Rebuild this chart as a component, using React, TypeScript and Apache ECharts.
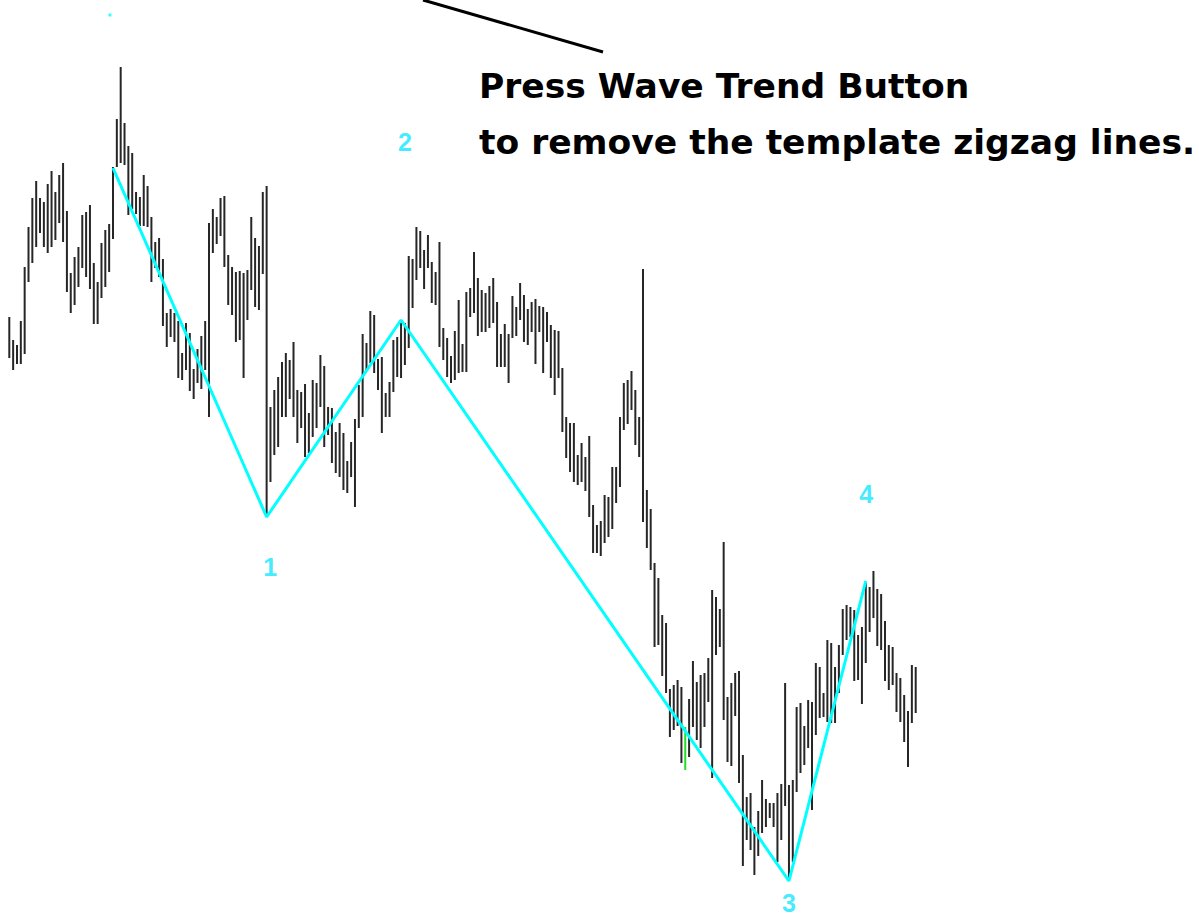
import React, { useEffect, useRef } from "react";
import * as echarts from "echarts";

// Bar highs and lows (chart units, no axis shown), one per session
const highs = [
  683, 660, 655, 679, 733, 773, 802, 819, 802, 798, 816, 829, 808, 825, 837, 789, 727, 743, 753, 785,
  788, 795, 737, 718, 757, 770, 776, 833, 881, 933, 877, 854, 847, 808, 803, 825, 814, 783, 758, 762,
  741, 687, 691, 687, 679, 647, 677, 667, 631, 651, 664, 679, 777, 791, 783, 802, 804, 745, 733, 728,
  729, 727, 730, 783, 762, 754, 808, 814, 593, 610, 623, 638, 647, 640, 658, 610, 608, 616, 587, 620,
  617, 645, 634, 593, 592, 568, 577, 567, 539, 558, 581, 615, 666, 657, 689, 685, 641, 643, 607, 618,
  660, 663, 678, 677, 744, 741, 773, 769, 750, 765, 738, 728, 758, 672, 662, 644, 669, 700, 656, 708,
  712, 748, 722, 710, 707, 714, 722, 698, 666, 676, 666, 704, 693, 717, 705, 691, 698, 701, 694, 693,
  688, 675, 670, 669, 632, 583, 577, 577, 545, 557, 543, 564, 495, 475, 479, 505, 503, 533, 533, 583,
  617, 620, 629, 610, 583, 731, 510, 491, 437, 422, 385, 377, 311, 315, 320, 313, 273, 301, 339, 318,
  325, 327, 342, 410, 403, 391, 458, 303, 317, 327, 329, 245, 203, 207, 173, 189, 220, 201, 197, 197,
  207, 216, 317, 215, 220, 293, 297, 274, 300, 298, 337, 333, 307, 360, 357, 333, 355, 391, 395, 393,
  390, 365, 373, 417, 413, 429, 411, 406, 379, 355, 353, 327, 322, 305, 289, 335, 333,
];
const lows = [
  642, 630, 636, 636, 646, 718, 737, 753, 767, 753, 747, 753, 760, 777, 758, 708, 687, 695, 713, 732,
  723, 711, 676, 676, 702, 713, 728, 761, 833, 837, 835, 785, 791, 786, 774, 774, 773, 718, 732, 723,
  674, 653, 663, 658, 622, 620, 630, 609, 601, 617, 611, 630, 583, 747, 756, 764, 733, 695, 685, 658,
  660, 622, 680, 710, 693, 690, 726, 483, 518, 545, 553, 583, 583, 601, 583, 557, 572, 543, 547, 563,
  572, 593, 553, 565, 537, 527, 523, 510, 507, 523, 493, 572, 583, 630, 637, 627, 610, 567, 583, 583,
  608, 623, 622, 635, 652, 692, 720, 732, 711, 732, 697, 695, 653, 640, 623, 617, 620, 627, 628, 628,
  683, 687, 664, 668, 668, 672, 677, 633, 633, 633, 617, 662, 664, 680, 658, 655, 668, 636, 668, 627,
  658, 622, 605, 622, 568, 542, 528, 518, 515, 518, 509, 483, 447, 447, 444, 457, 463, 471, 497, 513,
  570, 576, 590, 555, 543, 478, 452, 430, 353, 355, 324, 307, 263, 270, 274, 237, 230, 243, 273, 260,
  252, 273, 298, 222, 345, 353, 280, 238, 234, 284, 217, 134, 160, 150, 125, 144, 167, 173, 182, 173,
  138, 160, 194, 119, 138, 208, 227, 235, 252, 190, 265, 282, 283, 278, 277, 277, 307, 345, 360, 363,
  319, 320, 296, 337, 368, 382, 354, 350, 319, 310, 315, 288, 278, 258, 233, 277, 287,
];
// Highlighted (green) bar index
const greenBars = [176];

// Template zigzag pivots: [bar index, value]
const zigzagIdx = [27, 67, 102, 203, 223];
const zigzagVal = [832, 483, 680, 119, 419];

// Wave labels
const waveNames = ["1", "2", "3", "4"];
const waveLabelIdx = [67.9, 103.0, 203.0, 223.1];
const waveLabelVal = [433, 858, 97, 506];

const noteLines = ["Press Wave Trend Button", "to remove the template zigzag lines."];

export default function App() {
  const ref = useRef<HTMLDivElement>(null);
  useEffect(() => {
    document.body.style.margin = "0";
    const chart = echarts.init(ref.current!, undefined, { renderer: "svg" });
    const barData = highs.map((h, i) => {
      const item: any = { value: [i, h, lows[i]] };
      if (greenBars.includes(i)) item.itemStyle = { color: "#22dd22" };
      return item;
    });
    const zz = zigzagIdx.map((x, i) => [x, zigzagVal[i]]);
    const labels = waveNames.map((n, i) => ({ name: n, value: [waveLabelIdx[i], waveLabelVal[i]] }));
    chart.setOption({
      animation: false,
      backgroundColor: "#ffffff",
      grid: { left: 9.3, right: 283.3, top: 0, bottom: 0 },
      xAxis: { type: "value", min: 0, max: 236, show: false },
      yAxis: { type: "value", min: 83, max: 1000, show: false },
      series: [
        {
          type: "custom",
          itemStyle: { color: "#262626" },
          encode: { x: 0, y: [1, 2] },
          data: barData,
          renderItem: (params: any, api: any) => {
            const i = api.value(0);
            const top = api.coord([i, api.value(1)]);
            const bot = api.coord([i, api.value(2)]);
            return {
              type: "rect",
              shape: { x: top[0] - 1, y: top[1], width: 2, height: bot[1] - top[1] },
              style: { fill: api.visual("color") },
            };
          },
        },
        {
          type: "line",
          data: zz,
          symbol: "none",
          lineStyle: { color: "#00ffff", width: 3 },
          z: 5,
        },
        {
          type: "scatter",
          data: labels,
          symbolSize: 0,
          label: {
            show: true,
            position: "inside",
            formatter: "{b}",
            color: "#14e6ff",
            fontSize: 25,
            fontWeight: "bold",
            fontFamily: "Liberation Sans, Arial, sans-serif",
          },
          z: 6,
        },
        {
          type: "scatter",
          data: [[26.2, 985]],
          symbol: "rect",
          symbolSize: 3,
          itemStyle: { color: "#00ffff" },
          z: 6,
        },
      ],
      graphic: [
        {
          type: "line",
          shape: { x1: 423, y1: 0, x2: 603, y2: 52 },
          style: { stroke: "#000000", lineWidth: 3 },
        },
        {
          type: "text",
          style: {
            x: 479,
            y: 86,
            text: noteLines[0],
            fill: "#000000",
            font: "bold 34.5px 'DejaVu Sans', sans-serif",
            verticalAlign: "middle",
          },
        },
        {
          type: "text",
          style: {
            x: 479,
            y: 142,
            text: noteLines[1],
            fill: "#000000",
            font: "bold 34.5px 'DejaVu Sans', sans-serif",
            verticalAlign: "middle",
          },
        },
      ],
    });
    return () => chart.dispose();
  }, []);
  return <div ref={ref} style={{ width: 1199, height: 917 }} />;
}
